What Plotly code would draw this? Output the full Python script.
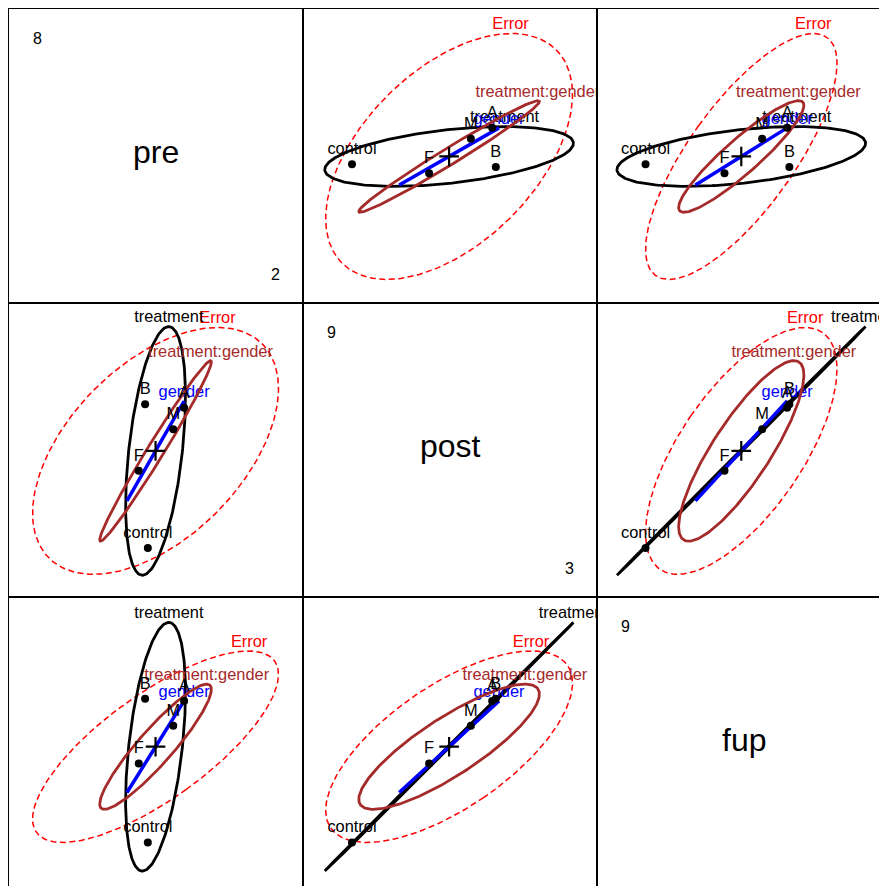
import numpy as np
import plotly.graph_objects as go

# Variables and their data ranges (shown on the diagonal)
variables = ["pre", "post", "fup"]
var_min = [2, 3, 3]
var_max = [8, 9, 9]

grand_mean = [4.99, 5.98, 5.94]

# Means of the factor levels
group_labels = ["control", "A", "B", "F", "M"]
group_pre = [4.82, 5.62, 4.76, 4.62, 5.38]
group_post = [3.84, 6.93, 7.01, 5.54, 6.46]
group_fup = [3.83, 6.95, 7.00, 5.57, 6.40]

# HE ellipses: half-spread along pre, post, fup and correlations (pre-post, pre-fup, post-fup)
effect_names = ["Error", "treatment", "gender", "treatment:gender"]
effect_colors = ["#FF0000", "#000000", "#0000FF", "#A52A2A"]
error_spread = [2.71, 2.72, 2.11]
error_corr = [0.505, 0.755, 0.665]
treatment_spread = [0.66, 2.74, 2.74]
treatment_corr = [0.44, 0.44, 0.99995]
gender_spread = [0.63, 1.10, 1.01]
gender_corr = [1.0, 1.0, 1.0]
inter_spread = [1.23, 1.99, 1.38]
inter_corr = [0.985, 0.915, 0.84]

spreads = [error_spread, treatment_spread, gender_spread, inter_spread]
corrs = [error_corr, treatment_corr, gender_corr, inter_corr]

FONT = "Liberation Sans, Arial, sans-serif"
# the page body adds 8px on the left/top; 1px margin keeps the outer frame visible
M = 1
W, H = 880, 879
P = 294  # panel size in px
PW, PH = W - M, H - M


def effect_matrix(sd, r):
    R = np.array([[1, r[0], r[1]], [r[0], 1, r[2]], [r[1], r[2], 1]])
    D = np.diag(sd)
    return D @ R @ D


def ellipse(S, center, xv, yv, n=240):
    idx = [xv, yv]
    sub = S[np.ix_(idx, idx)]
    w, V = np.linalg.eigh(sub)
    A = V @ np.diag(np.sqrt(np.clip(w, 0, None)))
    t = np.linspace(0, 2 * np.pi, n)
    pts = A @ np.vstack([np.cos(t), np.sin(t)])
    return pts[0] + center[xv], pts[1] + center[yv]


means = np.array([group_pre, group_post, group_fup])
gm = np.array(grand_mean)
mats = [effect_matrix(s, r) for s, r in zip(spreads, corrs)]

fig = go.Figure()
layout = {}

for i in range(3):          # row -> y variable
    for j in range(3):      # column -> x variable
        k = i * 3 + j + 1
        xa, ya = f"x{k}", f"y{k}"

        # axis geometry (last row / column run off the page like the original)
        x0 = j * P / PW
        x1 = min((j + 1) * P / PW, 1)
        y1 = 1 - i * P / PH
        y0 = max(1 - (i + 1) * P / PH, 0)
        fx = (x1 - x0) * PW / P
        fy = (y1 - y0) * PH / P
        padx = 0.04 * (var_max[j] - var_min[j])
        pady = 0.04 * (var_max[i] - var_min[i])
        xlo, xhi = var_min[j] - padx, var_max[j] + padx
        ylo, yhi = var_min[i] - pady, var_max[i] + pady
        xr = [xlo, xlo + (xhi - xlo) * fx]
        yr = [yhi - (yhi - ylo) * fy, yhi]

        common = dict(showgrid=False, zeroline=False, showticklabels=False, ticks="",
                      showline=True, linecolor="black", linewidth=1.3)
        xkw = dict(common, domain=[x0, x1], range=xr, anchor=ya)
        ykw = dict(common, domain=[y0, y1], range=yr, anchor=xa)
        if i == 2:
            xkw.update(side="top", mirror=False)
        else:
            xkw.update(mirror=True)
        if j == 2:
            ykw.update(side="left", mirror=False)
        else:
            ykw.update(mirror=True)
        layout["xaxis" if k == 1 else f"xaxis{k}"] = xkw
        layout["yaxis" if k == 1 else f"yaxis{k}"] = ykw

        if i == j:
            fig.add_annotation(x=(xlo + xhi) / 2, y=(ylo + yhi) / 2, xref=xa, yref=ya,
                               text=variables[i], showarrow=False, yshift=4,
                               font=dict(size=32, family=FONT, color="black"))
            fig.add_annotation(x=xlo, y=yhi, xref=xa, yref=ya, text=str(var_max[i]),
                               showarrow=False, xanchor="left", yanchor="middle",
                               xshift=22, yshift=-29, font=dict(size=16, family=FONT, color="black"))
            fig.add_annotation(x=xhi, y=ylo, xref=xa, yref=ya, text=str(var_min[i]),
                               showarrow=False, xanchor="right", yanchor="middle",
                               xshift=-21, yshift=29, font=dict(size=16, family=FONT, color="black"))
            continue

        for name, col, S in zip(effect_names, effect_colors, mats):
            ex, ey = ellipse(S, gm, j, i)
            if name == "Error":
                line = dict(color=col, width=1.5, dash="6px,3.5px")
            elif name == "gender":
                line = dict(color=col, width=3.5)
            else:
                line = dict(color=col, width=2.8)
            fig.add_trace(go.Scatter(x=ex, y=ey, mode="lines", line=line,
                                     xaxis=xa, yaxis=ya, hoverinfo="skip"))
            top = int(np.argmax(ey))
            fig.add_trace(go.Scatter(x=[ex[top]], y=[ey[top]], mode="text", text=[name],
                                     textposition="top center",
                                     textfont=dict(size=16.4, family=FONT, color=col),
                                     xaxis=xa, yaxis=ya, hoverinfo="skip"))

        fig.add_trace(go.Scatter(x=means[j], y=means[i], mode="markers+text",
                                 text=group_labels, textposition="top center",
                                 textfont=dict(size=16.4, family=FONT, color="black"),
                                 marker=dict(size=8, color="black"),
                                 xaxis=xa, yaxis=ya, hoverinfo="skip"))
        fig.add_trace(go.Scatter(x=[gm[j]], y=[gm[i]], mode="markers",
                                 marker=dict(symbol="cross-thin", size=14,
                                             line=dict(width=2.2, color="black")),
                                 xaxis=xa, yaxis=ya, hoverinfo="skip"))

fig.update_layout(**layout)
fig.update_layout(width=W, height=H, margin=dict(l=M, t=M, r=0, b=0),
                  plot_bgcolor="white", paper_bgcolor="white", showlegend=False,
                  font=dict(family=FONT))
fig.write_html("out.html")
